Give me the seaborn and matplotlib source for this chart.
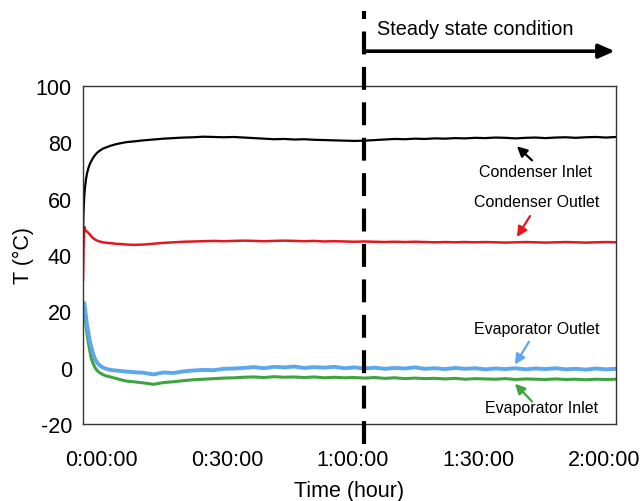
import numpy as np
import pandas as pd
import matplotlib
matplotlib.use("Agg")
import matplotlib.pyplot as plt
import seaborn as sns

# ---------------- data (hours since logging start, temperature in °C) -------------
time_hr = [0, 0.002, 0.005, 0.008, 0.012, 0.016, 0.022, 0.028, 0.034, 0.040,
           0.048, 0.056, 0.066, 0.08, 0.095, 0.11, 0.13, 0.15, 0.175,
           0.20, 0.24, 0.28, 0.32, 0.36, 0.40, 0.44, 0.48, 0.52, 0.56,
           0.60, 0.64, 0.68, 0.72, 0.76, 0.80, 0.84, 0.88, 0.92, 0.96,
           1.00, 1.04, 1.08, 1.12, 1.16, 1.20, 1.24, 1.28, 1.32, 1.36,
           1.40, 1.44, 1.48, 1.52, 1.56, 1.60, 1.64, 1.68, 1.72, 1.76,
           1.80, 1.84, 1.88, 1.92, 1.96, 2.00, 2.04, 2.08, 2.12]

condenser_inlet = [48, 55, 61, 64, 67, 69, 71, 72.5, 73.5, 74.5,
                   75.5, 76.3, 77, 77.8, 78.3, 78.8, 79.3, 79.7, 80.1,
                   80.3, 80.7, 81.0, 81.3, 81.5, 81.7, 81.8, 82.0, 81.9, 81.8,
                   81.9, 81.7, 81.5, 81.3, 81.1, 81.2, 81.0, 81.1, 80.9, 80.8,
                   80.7, 80.6, 80.5, 80.6, 80.8, 81.0, 81.2, 81.1, 81.3, 81.2,
                   81.4, 81.3, 81.5, 81.4, 81.6, 81.5, 81.7, 81.6, 81.4, 81.6,
                   81.7, 81.5, 81.7, 81.8, 81.6, 81.8, 81.9, 81.7, 81.9]

condenser_outlet = [30.8, 42, 50, 49, 48.5, 48.3, 47.8, 47.2, 46.5, 46,
                    45.5, 45.1, 44.8, 44.5, 44.3, 44.2, 44.0, 43.9, 43.7,
                    43.6, 43.7, 44.0, 44.3, 44.5, 44.7, 44.8, 44.9, 45.0, 44.9,
                    45.0, 45.1, 45.0, 44.9, 45.0, 45.1, 45.0, 44.9, 45.0, 44.8,
                    44.9, 44.8, 44.7, 44.8, 44.7, 44.6, 44.7, 44.6, 44.7, 44.6,
                    44.5, 44.6, 44.5, 44.6, 44.5, 44.6, 44.5, 44.4, 44.5, 44.6,
                    44.5, 44.4, 44.5, 44.6, 44.5, 44.4, 44.5, 44.6, 44.5]

evaporator_outlet = [18, 22, 23, 21, 18, 15, 12, 9, 7, 5,
                     3, 1.8, 0.8, 0, -0.5, -0.8, -1.0, -1.2, -1.4,
                     -1.6, -1.8, -2.4, -1.7, -1.9, -1.3, -1.0, -0.8, -0.9, -0.4,
                     -0.3, -0.1, 0.2, -0.2, 0.3, 0.1, 0.4, -0.1, 0.2, 0.0,
                     0.3, -0.2, 0.1, -0.3, 0.0, -0.4, -0.1, -0.3, 0.1, -0.4,
                     -0.2, -0.5, -0.1, -0.4, -0.2, -0.6, -0.3, -0.5, -0.2, -0.6,
                     -0.3, -0.5, -0.2, -0.6, -0.4, -0.7, -0.3, -0.6, -0.4]

evaporator_inlet = [23, 22.5, 21, 18, 15, 12, 8.5, 5.5, 3, 1.5,
                    0, -1.0, -1.8, -2.5, -3.0, -3.3, -3.8, -4.3, -4.8,
                    -5.0, -5.4, -5.9, -5.3, -5.0, -4.6, -4.3, -4.1, -3.9, -3.7,
                    -3.6, -3.4, -3.3, -3.5, -3.2, -3.4, -3.3, -3.5, -3.3, -3.6,
                    -3.4, -3.6, -3.5, -3.7, -3.5, -3.8, -3.6, -3.9, -3.7, -3.9,
                    -3.8, -4.0, -3.8, -4.1, -3.9, -4.0, -4.1, -3.9, -4.2, -4.0,
                    -4.1, -4.2, -4.0, -4.2, -4.1, -4.3, -4.1, -4.2, -4.1]

series_names = ["Evaporator Inlet", "Evaporator Outlet", "Condenser Outlet", "Condenser Inlet"]
series_values = [evaporator_inlet, evaporator_outlet, condenser_outlet, condenser_inlet]
series_colors = ["#3FA33F", "#5DA8EC", "#E0191E", "#000000"]
series_widths = [2.2, 2.8, 1.8, 1.6]

tick_pos = [0.072, 0.572, 1.072, 1.572, 2.072]
tick_labels = ["0:00:00", "0:30:00", "1:00:00", "1:30:00", "2:00:00"]
steady_start = 1.118

# ---------------- figure ----------------
sns.set_theme(style="white")
plt.rcParams["font.family"] = ["Liberation Sans", "DejaVu Sans"]
plt.rcParams["axes.unicode_minus"] = False
plt.rcParams["text.color"] = "black"
plt.rcParams["axes.labelcolor"] = "black"

fig = plt.figure(figsize=(6.44, 5.02), dpi=100)
ax = fig.add_axes([0.1289, 0.1534, 0.8276, 0.6733])

frames = []
for name, vals in zip(series_names, series_values):
    frames.append(pd.DataFrame({"time": time_hr, "T": vals, "series": name}))
df = pd.concat(frames, ignore_index=True)

for name, col, lw in zip(series_names, series_colors, series_widths):
    sns.lineplot(data=df[df["series"] == name], x="time", y="T", color=col,
                 linewidth=lw, ax=ax, sort=False, estimator=None, legend=False)

ax.set_xlim(0, 2.12)
ax.set_ylim(-20, 100)
ax.set_yticks([-20, 0, 20, 40, 60, 80, 100])
ax.set_xticks(tick_pos)
ax.set_xticklabels(tick_labels)
ax.tick_params(axis="both", labelsize=15.5, length=0, colors="black", pad=8)
ax.tick_params(axis="x", pad=18)
for s in ax.spines.values():
    s.set_color("#333333")
    s.set_linewidth(1.0)

ax.set_xlabel("Time (hour)", fontsize=15.5, labelpad=7)
ax.set_ylabel("T (\u00b0C)", fontsize=15.5, labelpad=1)

# steady state marker
xt = ax.get_xaxis_transform()
ax.plot([steady_start, steady_start], [-0.06, 1.222], transform=xt, clip_on=False,
        color="black", lw=3.0, dashes=(5.5, 3), zorder=5)
ax.annotate("", xy=(2.115, 1.103), xytext=(steady_start, 1.103), xycoords=xt,
            textcoords=xt, annotation_clip=False,
            arrowprops=dict(arrowstyle="-|>,head_length=0.8,head_width=0.35",
                            lw=2.6, color="black", shrinkA=0, shrinkB=0))
ax.text(1.169, 1.17, "Steady state condition", transform=xt, fontsize=14.3,
        ha="left", va="center")

# annotations
ann = [
    ("Condenser Inlet", (1.798, 69.7), (1.786, 73.6), (1.726, 78.6), "#000000"),
    ("Condenser Outlet", (1.806, 59.1), (1.778, 53.8), (1.726, 46.4), "#E0191E"),
    ("Evaporator Outlet", (1.806, 13.8), (1.774, 9.2), (1.718, 1.1), "#5DA8EC"),
    ("Evaporator Inlet", (1.822, -14.2), (1.786, -12.0), (1.718, -5.7), "#3FA33F"),
]
for label, txy, tail, head, col in ann:
    ax.text(txy[0], txy[1], label, fontsize=11.5, ha="center", va="center")
    ax.annotate("", xy=head, xytext=tail,
                arrowprops=dict(arrowstyle="-|>,head_length=0.5,head_width=0.25",
                                lw=1.6, color=col, shrinkA=0, shrinkB=0))

fig.savefig("out.png", dpi=100)
